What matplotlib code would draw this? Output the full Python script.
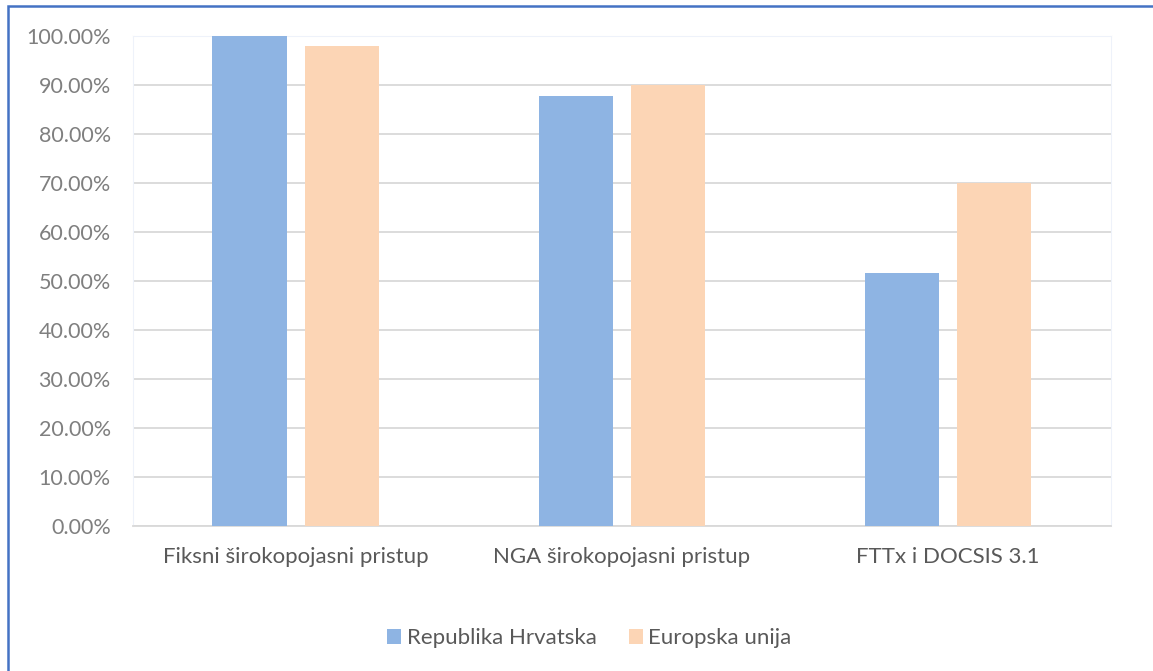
import numpy as np
import matplotlib.pyplot as plt
from matplotlib.patches import Rectangle
from matplotlib.ticker import PercentFormatter

categories = ['Fiksni širokopojasni pristup', 'NGA širokopojasni pristup', 'FTTx i DOCSIS 3.1']
hr_values = [1.00, 0.878, 0.517]
eu_values = [0.98, 0.90, 0.70]
series_names = ['Republika Hrvatska', 'Europska unija']

plt.rcParams['font.family'] = ['Lato', 'DejaVu Sans']

fig = plt.figure(figsize=(11.53, 6.71), dpi=100)
ax = fig.add_axes([0.1153, 0.2161, 0.8483, 0.7303])

x = np.arange(len(categories))
w = 0.227
off = 0.1425
ax.bar(x - off, hr_values, w, color='#8EB4E3', label=series_names[0], zorder=3)
ax.bar(x + off, eu_values, w, color='#FCD5B5', label=series_names[1], zorder=3)

ax.set_xlim(-0.5, 2.5)
ax.set_ylim(0, 1.0)
ax.set_yticks(np.arange(0, 1.01, 0.1))
ax.yaxis.set_major_formatter(PercentFormatter(1.0, decimals=2))
ax.set_xticks(x)
ax.set_xticklabels(categories)
ax.grid(axis='y', color='#D9D9D9', lw=1.3, zorder=0)
ax.tick_params(axis='both', length=0)
ax.tick_params(axis='x', pad=15, labelsize=16, colors='#595959')
ax.tick_params(axis='y', pad=16, labelsize=15.5, colors='#7F7F7F')
for s in ['top', 'left', 'right']:
    ax.spines[s].set_color('#EEF2FA')
ax.spines['bottom'].set_color('#D9D9D9')
ax.spines['bottom'].set_linewidth(1.3)

leg = fig.legend(loc='center', bbox_to_anchor=(0.511, 0.049), ncol=2, frameon=False,
                 fontsize=16, handlelength=0.63, handleheight=0.63, columnspacing=1.45,
                 handletextpad=0.25)
for t in leg.get_texts():
    t.set_color('#595959')

# outer chart border
fig.patches.append(Rectangle((0.0069, -0.1), 1.2, 1.091, transform=fig.transFigure,
                             fill=False, ec='#4472C4', lw=1.8))

fig.savefig('out.png', dpi=100)
